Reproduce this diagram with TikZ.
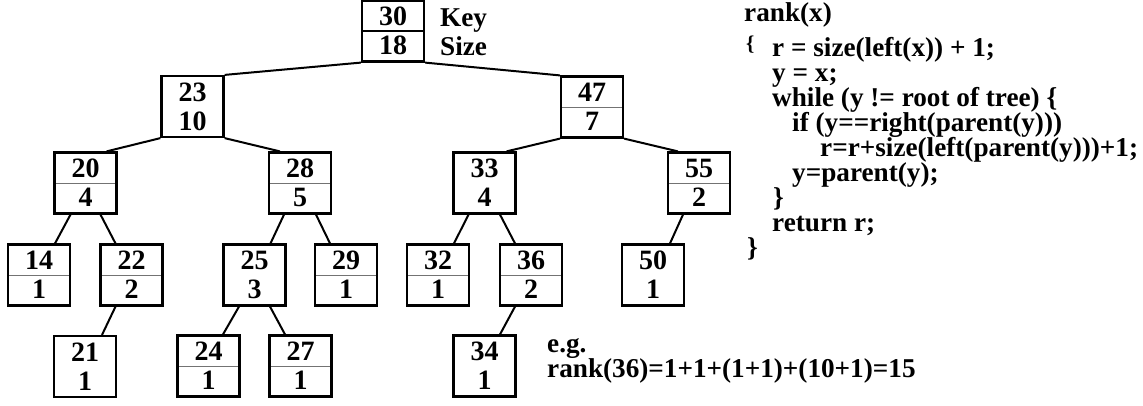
\documentclass[tikz,border=0pt]{standalone}
\usepackage{fontspec}
\setmainfont{Liberation Serif}
\begin{document}
\begin{tikzpicture}[x=1pt,y=-1pt,
  every node/.style={font=\fontsize{27.2}{29}\selectfont\bfseries},
  box/.style={draw, line width=2.2pt, minimum width=62pt, minimum height=61pt, inner sep=0pt, align=center, font=\fontsize{28}{29}\selectfont\bfseries},
  split/.style={box, path picture={\draw[line width=0.8pt, black!55] (path picture bounding box.west) -- (path picture bounding box.east);}},
  rootsplit/.style={box, path picture={\draw[line width=1.4pt, black] (path picture bounding box.west) -- (path picture bounding box.east);}},
  edge/.style={line width=2pt},
  code/.style={anchor=base west, inner sep=0pt}]
\useasboundingbox (0,0) rectangle (1143,405);

% tree nodes
\node[rootsplit] (n30) at (393,31) {30\\18};
\node[box]   (n23) at (192.5,106.5) {23\\10};
\node[split] (n47) at (592,107) {47\\7};
\node[split] (n20) at (85.5,183) {20\\4};
\node[split] (n28) at (300,183) {28\\5};
\node[box]   (n33) at (484.5,183) {33\\4};
\node[split] (n55) at (699,183) {55\\2};
\node[split] (n14) at (39,275) {14\\1};
\node[split] (n22) at (131.5,275) {22\\2};
\node[box]   (n25) at (254.5,275) {25\\3};
\node[split] (n29) at (346,275) {29\\1};
\node[split] (n32) at (438,275) {32\\1};
\node[split] (n36) at (531,275) {36\\2};
\node[box]   (n50) at (653,275) {50\\1};
\node[box]   (n21) at (85,366.5) {21\\1};
\node[split] (n24) at (208.5,366) {24\\1};
\node[split] (n27) at (300.5,366) {27\\1};
\node[box]   (n34) at (484.5,366) {34\\1};

% legend
\node[code] (key) at (440,26) {Key};
\node[code] (size) at (440,55) {Size};

% edges
\draw[edge] (n30.south west) -- (n23.north east);
\draw[edge] (n30.south east) -- (n47.north west);
\draw[edge] (n23.south west) -- ([xshift=21pt]n20.north);
\draw[edge] (n23.south east) -- ([xshift=-20pt]n28.north);
\draw[edge] (n47.south west) -- ([xshift=22pt]n33.north);
\draw[edge] (n47.south east) -- ([xshift=-21pt]n55.north);
\draw[edge] ([xshift=-15pt]n20.south) -- ([xshift=16pt]n14.north);
\draw[edge] ([xshift=15pt]n20.south) -- ([xshift=-16pt]n22.north);
\draw[edge] ([xshift=-16pt]n22.south) -- ([xshift=17pt]n21.north);
\draw[edge] ([xshift=-16pt]n28.south) -- ([xshift=16pt]n25.north);
\draw[edge] ([xshift=16pt]n28.south) -- ([xshift=-16pt]n29.north);
\draw[edge] ([xshift=-15.5pt]n25.south) -- ([xshift=14.5pt]n24.north);
\draw[edge] ([xshift=15.5pt]n25.south) -- ([xshift=-15.5pt]n27.north);
\draw[edge] ([xshift=-16pt]n33.south) -- ([xshift=16pt]n32.north);
\draw[edge] ([xshift=15.5pt]n33.south) -- ([xshift=-16pt]n36.north);
\draw[edge] ([xshift=-16pt]n36.south) -- ([xshift=15.5pt]n34.north);
\draw[edge] ([xshift=-16pt]n55.south) -- ([xshift=17pt]n50.north);

% code
\node[code] (c1) at (744,21) {rank(x)};
\node[code, font=\fontsize{21}{24}\selectfont\bfseries] (c2) at (746,50) {\{};
\node[code] (c3) at (772,56) {r = size(left(x)) + 1;};
\node[code] (c4) at (772,81) {y = x;};
\node[code] (c5) at (772,106) {while (y != root of tree) \{};
\node[code] (c6) at (792,131) {if (y==right(parent(y)))};
\node[code] (c7) at (820,156) {r=r+size(left(parent(y)))+1;};
\node[code] (c8) at (792,181) {y=parent(y);};
\node[code] (c9) at (773,206) {\}};
\node[code] (c10) at (772,231) {return r;};
\node[code] (c11) at (747,256) {\}};

% example
\node[code] (eg) at (547,352) {e.g.};
\node[code] (ex) at (547,377) {rank(36)=1+1+(1+1)+(10+1)=15};
\end{tikzpicture}
\end{document}
